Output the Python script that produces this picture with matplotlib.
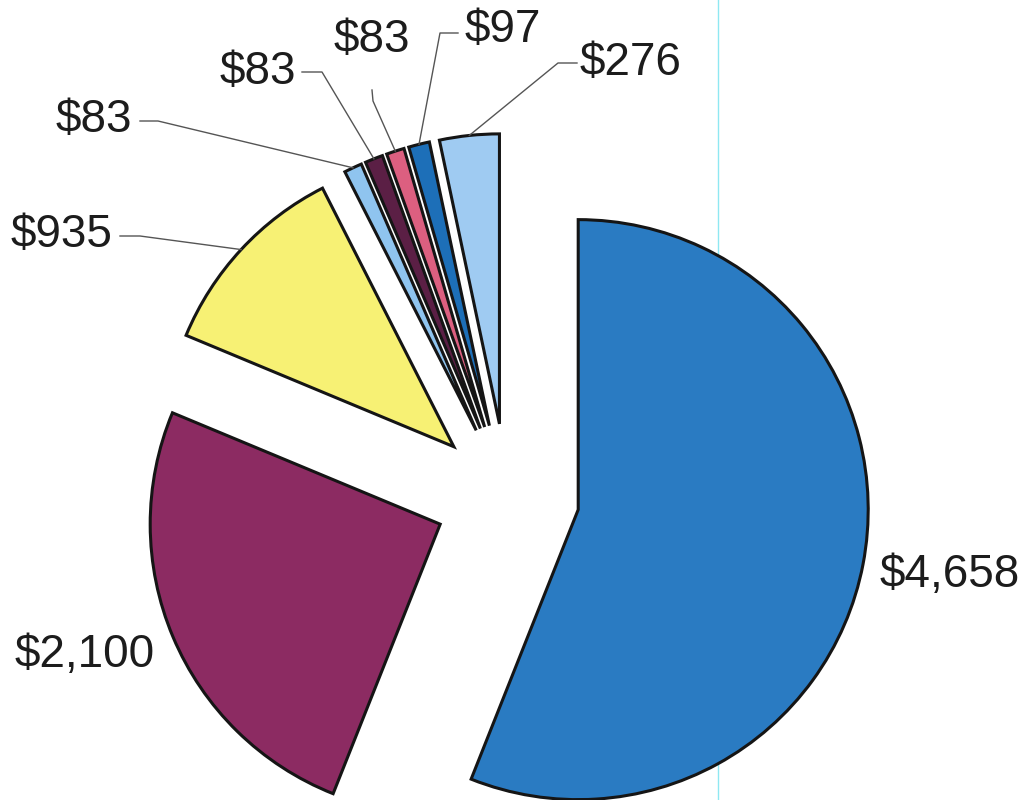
import numpy as np
import matplotlib
matplotlib.use("Agg")
import matplotlib.pyplot as plt

# values of the slices, clockwise from 12 o'clock
values = [4658, 2100, 935, 83, 83, 83, 97, 276]
labels = ["$4,658", "$2,100", "$935", "$83", "$83", "$83", "$97", "$276"]
colors = ["#2a7bc2", "#8c2b62", "#f7f174", "#8fc4ef",
          "#5b1f45", "#dc5f80", "#1d6fb8", "#9fcbf2"]

W, H = 1027, 800
R = 290            # pie radius in pixels
CX, CY = 507, 496  # pie centre (pixel coords, y down)
EXPL = 72.5        # explode distance in pixels


def py(y):
    # pixel row -> data y
    return H - y


plt.rcParams["font.family"] = ["Liberation Sans", "DejaVu Sans"]

fig = plt.figure(figsize=(W / 100, H / 100), dpi=100)
ax = fig.add_axes([0, 0, 1, 1])

wedges, _ = ax.pie(values, colors=colors, startangle=90, counterclock=False,
                   radius=R, center=(CX, py(CY)),
                   explode=[EXPL] * len(values),
                   wedgeprops=dict(edgecolor="#151515", linewidth=2.2))

ax.set_xlim(0, W)
ax.set_ylim(0, H)
ax.set_aspect("equal")
ax.axis("off")

# scanner streak
ax.axvline(718, color="#8fe8f2", lw=1.0, zorder=0)

# label layout: text position, alignment, leader elbow points (pixel coords)
layout = [
    ((950, 575), "center", None),
    ((85, 655), "center", None),
    ((112, 235), "right", [(120, 236), (140, 236)]),
    ((132, 120), "right", [(140, 121), (158, 121)]),
    ((296, 72), "right", [(302, 72), (322, 72)]),
    ((372, 40), "center", [(372, 90), (373, 101)]),
    ((465, 30), "left", [(458, 33), (440, 33)]),
    ((580, 63), "left", [(577, 63), (558, 63)]),
]

for w, lab, (pos, ha, elbow) in zip(wedges, labels, layout):
    ax.text(pos[0], py(pos[1]), lab, ha=ha, va="center",
            fontsize=33, color="#1c1c1c")
    if elbow is None:
        continue
    th = np.deg2rad((w.theta1 + w.theta2) / 2)
    ex = w.center[0] + R * np.cos(th)
    ey = w.center[1] + R * np.sin(th)
    xs = [p[0] for p in elbow] + [ex]
    ys = [py(p[1]) for p in elbow] + [ey]
    ax.plot(xs, ys, color="#555555", lw=1.0)

fig.savefig("out.png", dpi=100)
